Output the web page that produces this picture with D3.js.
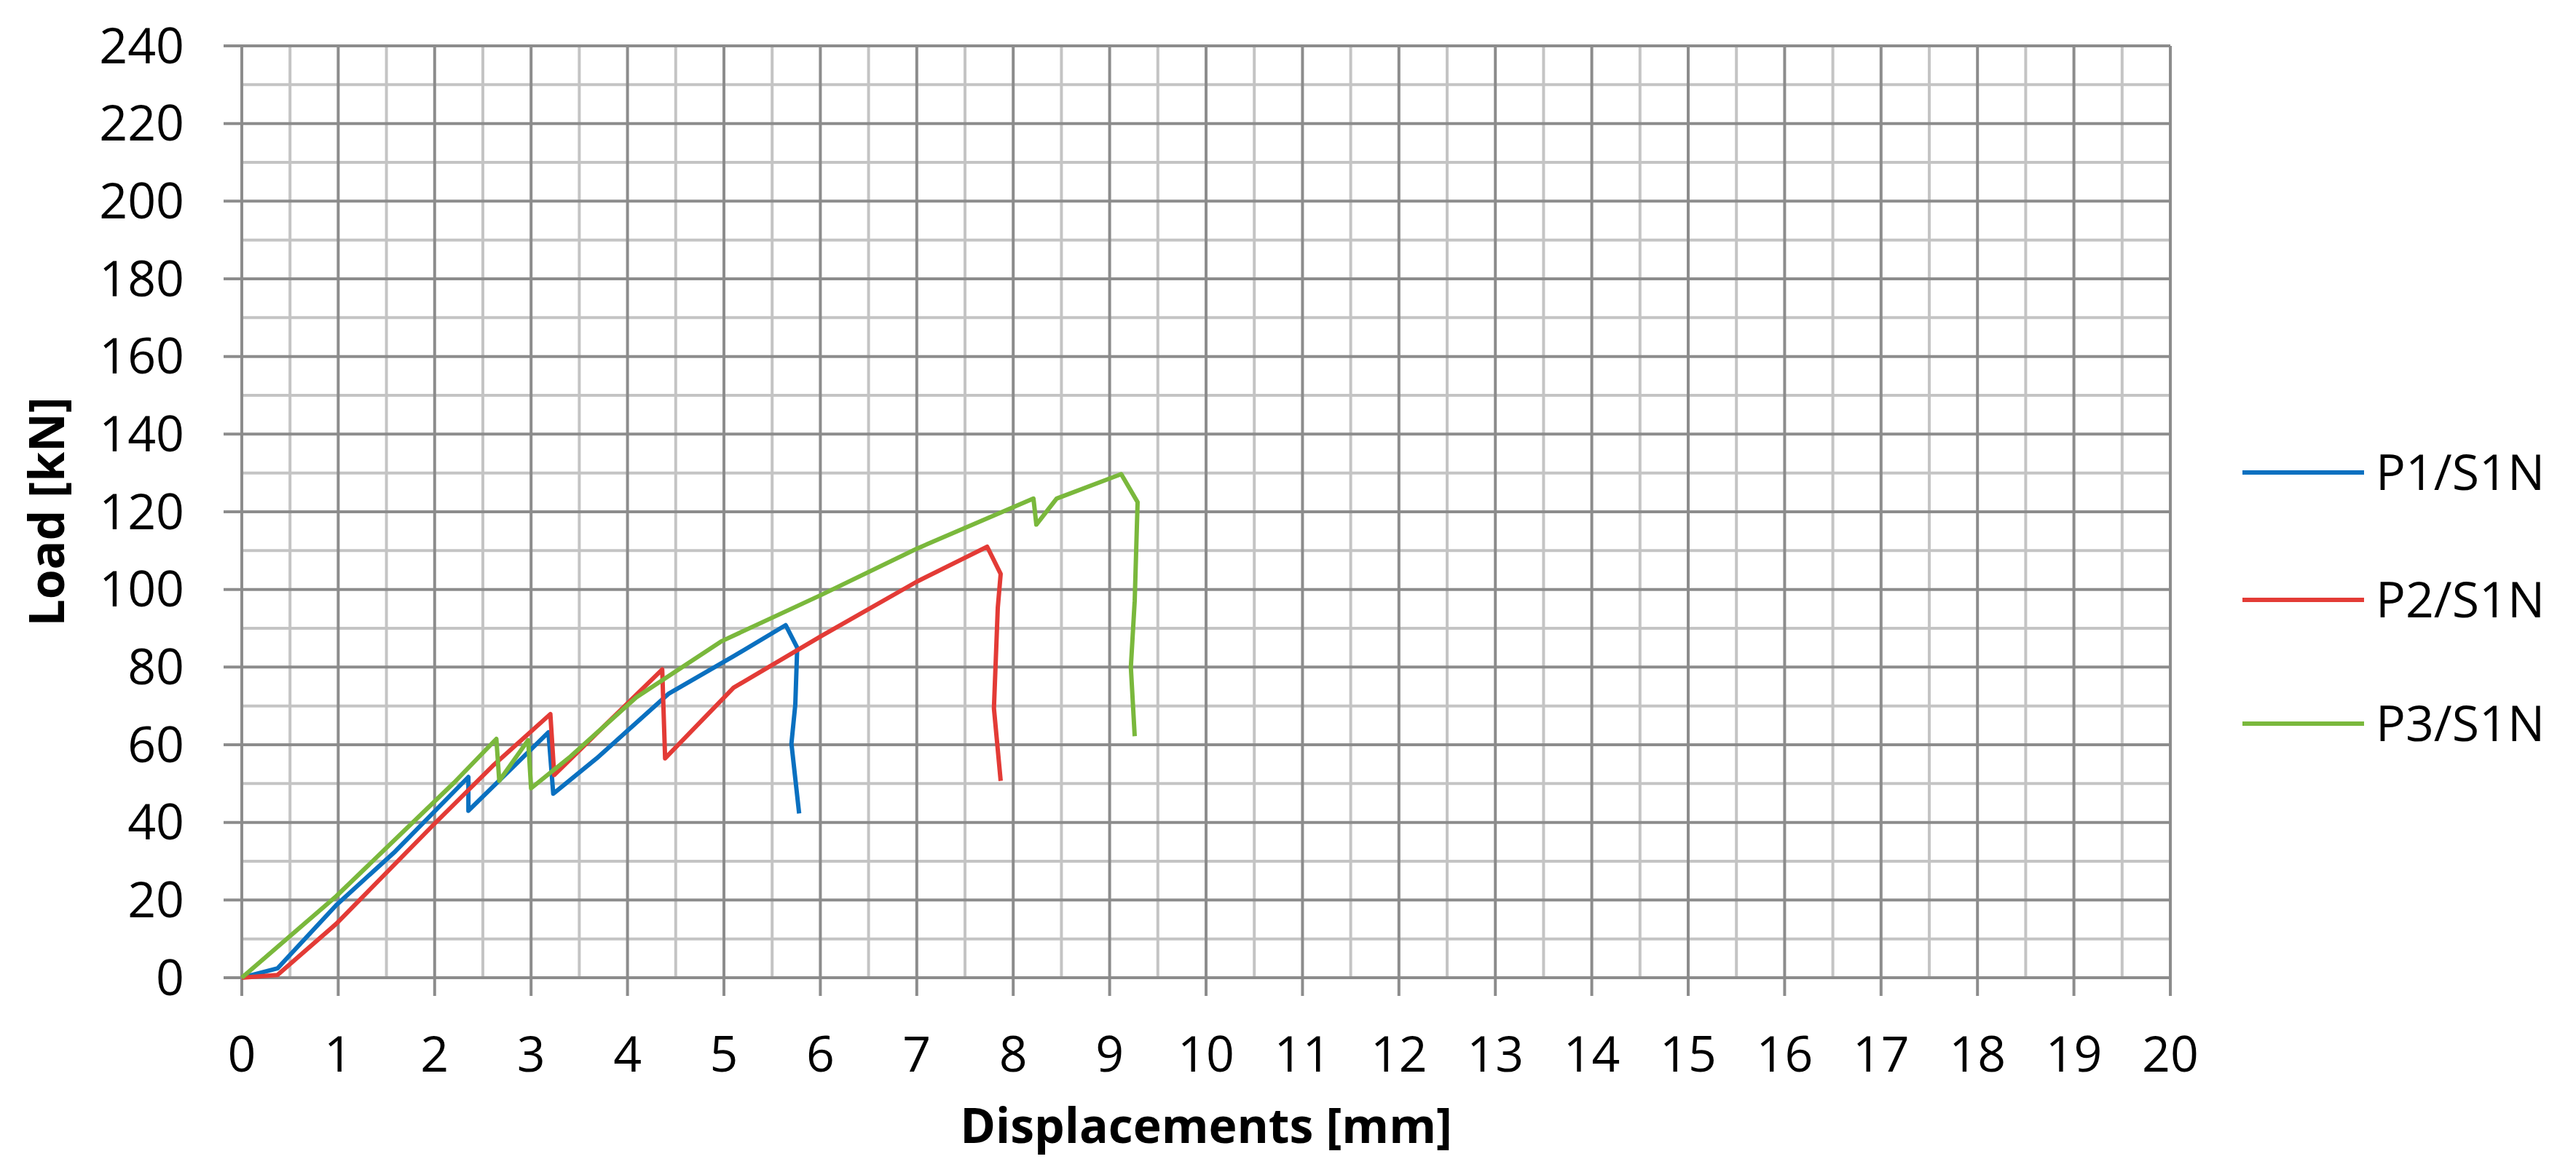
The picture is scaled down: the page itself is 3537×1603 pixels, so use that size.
<!DOCTYPE html>
<html>
<head>
<meta charset="utf-8">
<script src="https://cdn.jsdelivr.net/npm/d3@7"></script>
<style>
body { margin: 0; background: #fff; }
text { font-family: "Open Sans", "Noto Sans", sans-serif; }
</style>
</head>
<body>
<script>
// series: [displacement mm, load kN]
var p1 = [[0,0],[0.37,2.4],[0.98,18.7],[1.59,32.5],[2.35,51.7],[2.35,43],[3.18,63.2],[3.23,47.4],
  [3.68,56.5],[4.43,73.2],[5.1,82.8],[5.64,90.8],[5.76,85],[5.74,70.3],[5.7,60.3],[5.78,42.3]];
var p2 = [[0,0],[0.37,0.7],[0.98,13.9],[2.0,39.7],[2.6,54.5],[3.2,67.9],[3.24,52.2],[3.75,64.6],
  [4.36,79.4],[4.39,56.5],[5.1,74.7],[6.01,88],[7.0,102],[7.73,111],[7.87,104],[7.84,95.3],
  [7.8,69.4],[7.87,50.7]];
var p3 = [[0,0],[0.98,21],[2.2,50.2],[2.64,61.5],[2.67,50.7],[2.97,61.2],[3.0,48.8],[3.41,57],
  [4.09,72.2],[4.97,86.6],[6.01,98.6],[7.0,110.5],[8.21,123.4],[8.24,116.7],[8.45,123.4],
  [9.12,129.7],[9.29,122.5],[9.26,97.1],[9.22,80],[9.26,62.2]];
var seriesNames = ["P1/S1N", "P2/S1N", "P3/S1N"];
var seriesColors = ["#0a70c0", "#e33b36", "#7ab83c"];
var xTicks = d3.range(0, 21, 1);
var yTicks = d3.range(0, 241, 20);

var width = 3537, height = 1603;
var svg = d3.select("body").append("svg")
    .attr("width", width).attr("height", height);

var x = d3.scaleLinear().domain([0, 20]).range([332, 2980]);
var y = d3.scaleLinear().domain([0, 240]).range([1343, 63]);

// minor grid
svg.append("g").selectAll("line").data(d3.range(0.5, 20, 1)).join("line")
    .attr("x1", d => x(d)).attr("x2", d => x(d)).attr("y1", y(0)).attr("y2", y(240))
    .attr("stroke", "#c4c4c4").attr("stroke-width", 4);
svg.append("g").selectAll("line").data(d3.range(10, 240, 20)).join("line")
    .attr("x1", x(0)).attr("x2", x(20)).attr("y1", d => y(d)).attr("y2", d => y(d))
    .attr("stroke", "#c4c4c4").attr("stroke-width", 4);

// major grid with ticks sticking out
svg.append("g").selectAll("line").data(xTicks).join("line")
    .attr("x1", d => x(d)).attr("x2", d => x(d)).attr("y1", y(0) + 25).attr("y2", y(240))
    .attr("stroke", "#8c8c8c").attr("stroke-width", 4);
svg.append("g").selectAll("line").data(yTicks).join("line")
    .attr("x1", x(0) - 25).attr("x2", x(20)).attr("y1", d => y(d)).attr("y2", d => y(d))
    .attr("stroke", "#8c8c8c").attr("stroke-width", 4);

// tick labels
svg.append("g").selectAll("text").data(yTicks).join("text")
    .attr("x", 253).attr("y", d => y(d)).attr("dy", "0.35em")
    .attr("text-anchor", "end").attr("font-size", 68).text(d => d);
svg.append("g").selectAll("text").data(xTicks).join("text")
    .attr("x", d => x(d)).attr("y", 1448).attr("dy", "0.35em")
    .attr("text-anchor", "middle").attr("font-size", 68).text(d => d);

// axis titles
svg.append("text").attr("x", (x(0) + x(20)) / 2).attr("y", 1570)
    .attr("text-anchor", "middle").attr("font-size", 66).attr("font-weight", "bold")
    .text("Displacements [mm]");
svg.append("text").attr("transform", "translate(88," + y(120) + ") rotate(-90)")
    .attr("text-anchor", "middle").attr("font-size", 66).attr("font-weight", "bold")
    .text("Load [kN]");

// curves
var line = d3.line().x(d => x(d[0])).y(d => y(d[1]));
[p1, p2, p3].forEach(function(s, i){
    svg.append("path").datum(s).attr("d", line)
        .attr("fill", "none").attr("stroke", seriesColors[i])
        .attr("stroke-width", 6).attr("stroke-linejoin", "round");
});

// legend
var legendY = [649, 824, 994];
seriesNames.forEach(function(n, i){
    svg.append("line").attr("x1", 3079).attr("x2", 3246)
        .attr("y1", legendY[i]).attr("y2", legendY[i])
        .attr("stroke", seriesColors[i]).attr("stroke-width", 6);
    svg.append("text").attr("x", 3262).attr("y", legendY[i]).attr("dy", "0.35em")
        .attr("font-size", 68).text(n);
});
</script>
</body>
</html>
